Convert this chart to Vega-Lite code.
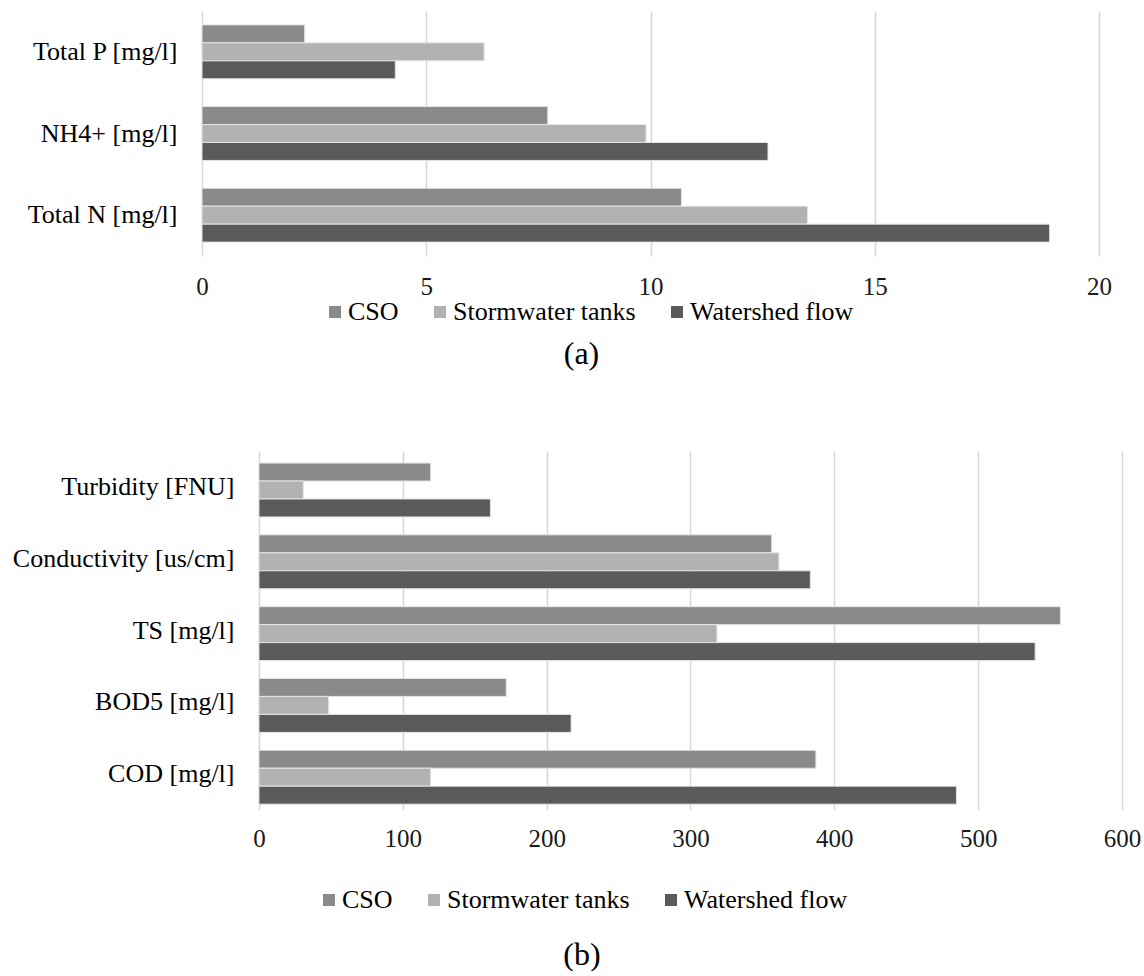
{
  "$schema": "https://vega.github.io/schema/vega-lite/v6.json",
  "padding": {"left": 12, "top": 11, "right": 0, "bottom": 0},
  "background": "white",
  "spacing": 81,
  "config": {
    "font": "Liberation Serif",
    "view": {"stroke": null},
    "axis": {"labelFont": "Liberation Serif", "labelColor": "#000000"},
    "legend": {"labelFont": "Liberation Serif", "labelColor": "#000000"},
    "title": {"font": "Liberation Serif", "fontWeight": "normal", "color": "#000000"}
  },
  "resolve": {"scale": {"color": "independent"}, "legend": {"color": "independent"}},
  "vconcat": [
    {
      "width": 897,
      "height": 245,
      "title": {"text": "(a)", "orient": "bottom", "font": "Liberation Serif", "fontSize": 32, "anchor": "middle", "frame": "group", "dx": -69, "offset": 14},
      "data": {"values": [
        {"parameter": "Total P [mg/l]", "source": "CSO", "value": 2.29},
        {"parameter": "Total P [mg/l]", "source": "Stormwater tanks", "value": 6.29},
        {"parameter": "Total P [mg/l]", "source": "Watershed flow", "value": 4.31},
        {"parameter": "NH4+ [mg/l]", "source": "CSO", "value": 7.71},
        {"parameter": "NH4+ [mg/l]", "source": "Stormwater tanks", "value": 9.9},
        {"parameter": "NH4+ [mg/l]", "source": "Watershed flow", "value": 12.62},
        {"parameter": "Total N [mg/l]", "source": "CSO", "value": 10.69},
        {"parameter": "Total N [mg/l]", "source": "Stormwater tanks", "value": 13.5},
        {"parameter": "Total N [mg/l]", "source": "Watershed flow", "value": 18.9}
      ]},
      "mark": {"type": "bar", "stroke": "#e4e4e4", "strokeWidth": 1},
      "encoding": {
        "y": {
          "field": "parameter", "type": "nominal",
          "sort": ["Total P [mg/l]", "NH4+ [mg/l]", "Total N [mg/l]"],
          "scale": {"paddingInner": 0.34, "paddingOuter": 0.17},
          "axis": {"title": null, "labelFont": "Liberation Serif", "labelFontSize": 26, "labelPadding": 25, "domain": false, "ticks": false, "grid": false, "labelLimit": 400}
        },
        "yOffset": {
          "field": "source", "type": "nominal",
          "sort": ["CSO", "Stormwater tanks", "Watershed flow"],
          "scale": {"paddingInner": 0, "paddingOuter": 0}
        },
        "x": {
          "field": "value", "type": "quantitative",
          "scale": {"domain": [0, 20], "nice": false},
          "axis": {"title": null, "values": [0, 5, 10, 15, 20], "grid": true, "gridColor": "#d6d6d6", "gridWidth": 1.5, "domain": false, "ticks": false, "labelFont": "Liberation Serif", "labelFontSize": 25, "labelPadding": 18, "labelFlush": false, "labelColor": "#1a1a1a"}
        },
        "color": {
          "field": "source", "type": "nominal",
          "scale": {"domain": ["CSO", "Stormwater tanks", "Watershed flow"], "range": ["#8a8a8a", "#b2b2b2", "#5a5a5a"]},
          "legend": {"orient": "none", "legendX": 120, "legendY": 288, "direction": "horizontal", "title": null, "labelFont": "Liberation Serif", "labelFontSize": 26, "labelColor": "#000000", "symbolType": "square", "symbolSize": 144, "symbolStrokeWidth": 0, "columnPadding": 28, "labelOffset": 0, "labelLimit": 400}
        }
      }
    },
    {
      "width": 920,
      "height": 359,
      "title": {"text": "(b)", "orient": "bottom", "font": "Liberation Serif", "fontSize": 32, "anchor": "middle", "frame": "group", "dx": -80, "offset": 27},
      "data": {"values": [
        {"parameter": "Turbidity [FNU]", "source": "CSO", "value": 119.4},
        {"parameter": "Turbidity [FNU]", "source": "Stormwater tanks", "value": 30.8},
        {"parameter": "Turbidity [FNU]", "source": "Watershed flow", "value": 160.9},
        {"parameter": "Conductivity [us/cm]", "source": "CSO", "value": 356.5},
        {"parameter": "Conductivity [us/cm]", "source": "Stormwater tanks", "value": 361.5},
        {"parameter": "Conductivity [us/cm]", "source": "Watershed flow", "value": 383.3},
        {"parameter": "TS [mg/l]", "source": "CSO", "value": 557.2},
        {"parameter": "TS [mg/l]", "source": "Stormwater tanks", "value": 318.4},
        {"parameter": "TS [mg/l]", "source": "Watershed flow", "value": 539.6},
        {"parameter": "BOD5 [mg/l]", "source": "CSO", "value": 171.9},
        {"parameter": "BOD5 [mg/l]", "source": "Stormwater tanks", "value": 48.5},
        {"parameter": "BOD5 [mg/l]", "source": "Watershed flow", "value": 217},
        {"parameter": "COD [mg/l]", "source": "CSO", "value": 387.2},
        {"parameter": "COD [mg/l]", "source": "Stormwater tanks", "value": 119.4},
        {"parameter": "COD [mg/l]", "source": "Watershed flow", "value": 484.9}
      ]},
      "mark": {"type": "bar", "stroke": "#e4e4e4", "strokeWidth": 1},
      "encoding": {
        "y": {
          "field": "parameter", "type": "nominal",
          "sort": ["Turbidity [FNU]", "Conductivity [us/cm]", "TS [mg/l]", "BOD5 [mg/l]", "COD [mg/l]"],
          "scale": {"paddingInner": 0.336, "paddingOuter": 0.168},
          "axis": {"title": null, "labelFont": "Liberation Serif", "labelFontSize": 26, "labelPadding": 25, "offset": -57, "domain": false, "ticks": false, "grid": false, "labelLimit": 400}
        },
        "yOffset": {
          "field": "source", "type": "nominal",
          "sort": ["CSO", "Stormwater tanks", "Watershed flow"],
          "scale": {"paddingInner": 0, "paddingOuter": 0}
        },
        "x": {
          "field": "value", "type": "quantitative",
          "scale": {"domain": [-39.6, 600], "nice": false, "zero": false},
          "axis": {"title": null, "values": [0, 100, 200, 300, 400, 500, 600], "grid": true, "gridColor": "#d6d6d6", "gridWidth": 1.5, "domain": false, "ticks": false, "labelFont": "Liberation Serif", "labelFontSize": 25, "labelPadding": 16, "labelFlush": false, "labelColor": "#1a1a1a"}
        },
        "color": {
          "field": "source", "type": "nominal",
          "scale": {"domain": ["CSO", "Stormwater tanks", "Watershed flow"], "range": ["#8a8a8a", "#b2b2b2", "#5a5a5a"]},
          "legend": {"orient": "none", "legendX": 114, "legendY": 436, "direction": "horizontal", "title": null, "labelFont": "Liberation Serif", "labelFontSize": 26, "labelColor": "#000000", "symbolType": "square", "symbolSize": 144, "symbolStrokeWidth": 0, "columnPadding": 28, "labelOffset": 0, "labelLimit": 400}
        }
      }
    }
  ]
}
